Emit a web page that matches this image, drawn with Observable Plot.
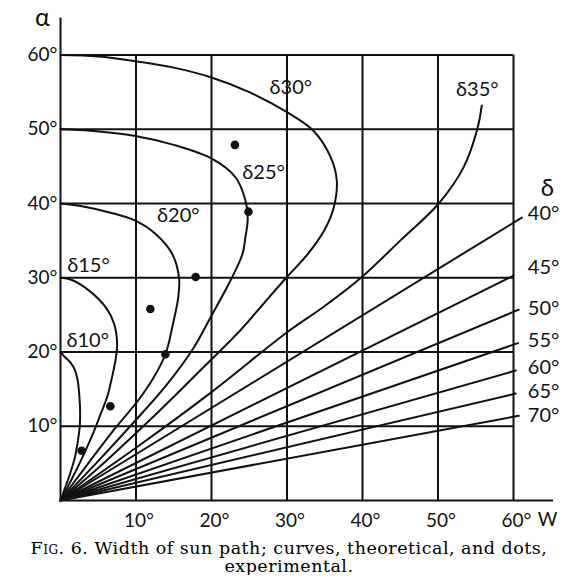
<!DOCTYPE html>
<html><head><meta charset="utf-8">
<script src="https://cdn.jsdelivr.net/npm/d3@7"></script>
<script src="https://cdn.jsdelivr.net/npm/@observablehq/plot@0.6"></script>
<style>
body{margin:0;background:#fff;}
#chart svg{display:block;}
#cap{font-family:"DejaVu Serif","Liberation Serif",serif;font-size:17.5px;letter-spacing:0.5px;text-align:center;line-height:18px;width:578px;color:#000;padding-top:9px;}
.sc{font-variant:small-caps;}
</style></head><body>
<div id="chart"></div>
<div id="cap"><span class="sc">Fig.</span> 6. Width of sun path; curves, theoretical, and dots,<br>experimental.</div>
<script>
// tick values
const wTicks = [10, 20, 30, 40, 50, 60];
const aTicks = [10, 20, 30, 40, 50, 60];

// theoretical curves, [W, alpha]
const curve10 = [[0,20],[0.5,19.4],[1.3,18.6],[1.9,17.6],[2.3,16],[2.5,14],[2.6,12],[2.55,10],[2.3,8],[1.9,5.8],[1.2,3.4],[0.5,1.4],[0,0]];
const curve15 = [[0,30],[1.5,29.7],[3.75,28.3],[6,26],[7.1,23.8],[7.5,21.1],[7.3,19],[6.8,16.5],[6.2,14],[5.3,11.6],[4.3,9],[2.9,5.8],[1.5,2.9],[0,0]];
const curve20 = [[0,40],[3,39.6],[6.5,38.8],[9.9,37.7],[12.6,35.9],[14.8,33.2],[15.7,30],[15.6,27.4],[14.9,23.8],[13.9,19.7],[12.3,16.5],[10.3,13.5],[7.3,9.8],[3.6,4.9],[0,0]];
const curve25 = [[0,50],[4,49.8],[9.9,49.1],[15,47.9],[20.1,46],[23.2,43.5],[24.5,40.4],[24.8,38],[24.5,35.5],[24.1,33.2],[22.7,30],[19.9,24.7],[17.6,20.5],[14,15.5],[9.5,10.3],[4.8,5.1],[0,0]];
const curve30 = [[0,60],[5,59.8],[9.7,59.2],[15,58.3],[19.9,57],[25,55],[30,52.3],[33.5,49.8],[35.8,46.2],[36.6,43],[36.2,39.5],[35,36.5],[32.6,33],[29.9,30],[26.8,26.4],[23.8,22.9],[18,17],[12,11],[6,5.3],[0,0]];
const curve35 = [[0,0],[10,7.1],[20,14.6],[29.8,22.5],[35,26.2],[39.8,30],[45,35],[50.1,40],[53.4,44.9],[55.2,50],[55.8,53.2]];
const ray40 = [[0,0],[61.1,38.1]];
const ray45 = [[0,0],[60,30.3]];
const ray50 = [[0,0],[60.7,25.7]];
const ray55 = [[0,0],[60.6,21.2]];
const ray60 = [[0,0],[60.3,17.5]];
const ray65 = [[0,0],[60.3,14.4]];
const ray70 = [[0,0],[60.7,11.4]];

// experimental dots
const dotW = [2.8, 6.6, 13.9, 11.9, 17.9, 24.9, 23.1];
const dotA = [6.7, 12.7, 19.7, 25.8, 30.1, 38.9, 47.9];

// curve labels
const curveLabelText = ["δ10°","δ15°","δ20°","δ25°","δ30°","δ35°"];
const curveLabelW = [3.6, 3.7, 15.6, 26.9, 30.5, 55.2];
const curveLabelA = [21.5, 31.6, 38.4, 44.1, 55.6, 55.3];

// ray labels
const rayLabelText = ["40°","45°","50°","55°","60°","65°","70°"];
const rayLabelA = [38.6, 31.4, 25.8, 21.5, 17.9, 14.7, 11.4];

const series = [
  ["d10", curve10],["d15", curve15],["d20", curve20],["d25", curve25],["d30", curve30],["d35", curve35],
  ["d40", ray40],["d45", ray45],["d50", ray50],["d55", ray55],["d60", ray60],["d65", ray65],["d70", ray70]
];
const lineRows = series.flatMap(([k, pts]) => pts.map(([w, a]) => ({k, w, a})));
const dots = dotW.map((w, i) => ({w, a: dotA[i]}));
const curveLabels = curveLabelText.map((t, i) => ({t, w: curveLabelW[i], a: curveLabelA[i]}));
const rayLabels = rayLabelText.map((t, i) => ({t, a: rayLabelA[i]}));

const font = "Lato, 'Open Sans', sans-serif";
const chart = Plot.plot({
  width: 578,
  height: 530,
  marginLeft: 60, marginRight: 65, marginTop: 55, marginBottom: 30,
  x: {domain: [0, 60], range: [60, 513], axis: null},
  y: {domain: [0, 60], range: [500, 54.5], axis: null},
  style: {fontFamily: font, background: "#fff", color: "#111"},
  marks: [
    Plot.ruleX(wTicks, {y1: 0, y2: 60, stroke: "#111", strokeWidth: 2}),
    Plot.ruleY(aTicks, {x1: 0, x2: 60, stroke: "#111", strokeWidth: 2}),
    Plot.ruleX([0], {y1: 0, y2: 65, stroke: "#111", strokeWidth: 2}),
    Plot.ruleY([0], {x1: 0, x2: 65.3, stroke: "#111", strokeWidth: 2}),
    Plot.line(lineRows, {x: "w", y: "a", z: "k", stroke: "#111", strokeWidth: 2, curve: "catmull-rom"}),
    Plot.dot(dots, {x: "w", y: "a", r: 4.3, fill: "#111"}),
    Plot.text(wTicks, {x: d => d, y: 0, text: d => d + "°", dy: 20, dx: 3, fontSize: 19, fill: "#111"}),
    Plot.text(aTicks, {x: 0, y: d => d, text: d => d + "°", dx: -3, textAnchor: "end", fontSize: 19, fill: "#111"}),
    Plot.text(["W"], {x: 64.5, y: 0, text: d => d, dy: 19, fontSize: 19, fill: "#111"}),
    Plot.text(["α"], {x: 0, y: 65, text: d => d, dx: -18, fontSize: 25, fill: "#111"}),
    Plot.text(curveLabels, {x: "w", y: "a", text: "t", fontSize: 20, fill: "#111"}),
    Plot.text(["δ"], {x: 64.5, y: 42, text: d => d, fontSize: 24, fill: "#111"}),
    Plot.text(rayLabels, {x: 61.9, y: "a", text: "t", textAnchor: "start", fontSize: 20, fill: "#111"})
  ]
});
document.getElementById("chart").appendChild(chart);
</script>
</body></html>
